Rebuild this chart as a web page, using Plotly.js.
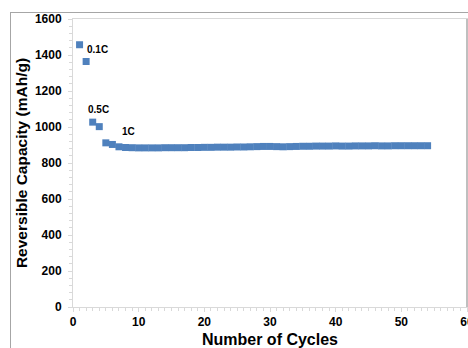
<!DOCTYPE html>
<html>
<head>
<meta charset="utf-8">
<script src="https://cdn.plot.ly/plotly-3.0.1.min.js"></script>
<style>
html,body{margin:0;padding:0;background:#fff;}
#wrap{position:relative;width:468px;height:348px;overflow:hidden;}
#chart{position:absolute;left:0;top:0;width:468px;height:348px;}
#frame{position:absolute;left:10px;top:12px;width:470px;height:350px;border-left:1px solid #a6a6a6;border-top:1px solid #a6a6a6;pointer-events:none;}
</style>
</head>
<body>
<div id="wrap"><div id="chart"></div><div id="frame"></div></div>
<script>
const cycles = [1,2,3,4,5,6,7,8,9,10,11,12,13,14,15,16,17,18,19,20,21,22,23,24,25,26,27,28,29,30,31,32,33,34,35,36,37,38,39,40,41,42,43,44,45,46,47,48,49,50,51,52,53,54];
const capacity = [1457,1364,1027,1002,912,903,890,886,885,884,884,884,884,885,885,885,885,886,886,887,887,888,888,888,889,889,890,891,892,892,891,890,891,892,893,893,894,894,894,895,894,894,895,895,895,896,895,895,896,896,896,896,896,896];
const rateLabels = ["0.1C","0.5C","1C"];
const rateLabelX = [3.7,3.9,8.5];
const rateLabelY = [1429,1098,977];
const xTickVals = [0,10,20,30,40,50,60];
const yTickVals = [0,200,400,600,800,1000,1200,1400,1600];

const trace = {
  x: cycles, y: capacity, type: 'scatter', mode: 'markers',
  marker: {symbol: 'square', size: 7, color: '#4F81BD', line: {width: 0}},
  hoverinfo: 'x+y', showlegend: false
};

const annotations = rateLabels.map((t,i)=>({
  x: rateLabelX[i], y: rateLabelY[i], xref: 'x', yref: 'y', text: t, showarrow: false,
  font: {family: 'Liberation Sans, Arial, sans-serif', size: 10, color: '#000', weight: 'bold'}
}));

const tickFont = {family: 'Liberation Sans, Arial, sans-serif', size: 12, color: '#000', weight: 'bold'};
const titleFont = {family: 'Liberation Sans, Arial, sans-serif', size: 16, color: '#000', weight: 'bold'};

const layout = {
  width: 468, height: 348,
  margin: {l: 73, r: 1, t: 19, b: 41, pad: 0},
  paper_bgcolor: 'rgba(0,0,0,0)', plot_bgcolor: '#fff',
  xaxis: {
    range: [0,60], tickvals: xTickVals, ticktext: xTickVals.map(String),
    showgrid: false, zeroline: false,
    showline: true, linecolor: '#d9d9d9', linewidth: 1, mirror: true,
    ticks: 'outside', ticklen: 4, tickcolor: '#d9d9d9', tickfont: tickFont,
    ticklabeloverflow: 'allow',
    minor: {dtick: 1, ticks: 'outside', ticklen: 3, tickcolor: '#d9d9d9', showgrid: false},
    title: {text: 'Number of Cycles', font: titleFont, standoff: 6}
  },
  yaxis: {
    range: [0,1600], tickvals: yTickVals, ticktext: yTickVals.map(String),
    showgrid: false, zeroline: false,
    showline: true, linecolor: '#d9d9d9', linewidth: 1, mirror: true,
    ticks: 'outside', ticklen: 4, tickcolor: '#d9d9d9', tickfont: tickFont,
    ticklabelstandoff: 4,
    minor: {dtick: 40, ticks: 'outside', ticklen: 3, tickcolor: '#d9d9d9', showgrid: false},
    title: {text: 'Reversible Capacity (mAh/g)', font: {family: 'Liberation Sans, Arial, sans-serif', size: 15.5, color: '#000', weight: 'bold'}, standoff: 3}
  },
  annotations: annotations,
  shapes: [{type: 'line', xref: 'paper', yref: 'paper', x0: 1, x1: 1, y0: 0, y1: 1, line: {color: '#bfbfbf', width: 2}}]
};

Plotly.newPlot('chart', [trace], layout, {displayModeBar: false, staticPlot: true});
</script>
</body>
</html>
